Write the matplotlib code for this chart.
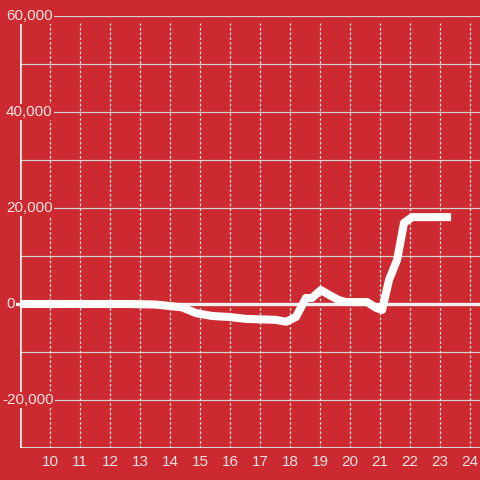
import numpy as np
import matplotlib
matplotlib.use("Agg")
from matplotlib import pyplot as plt

# data
hours = [9.0, 12.6, 13.5, 13.97, 14.4, 14.87, 15.4, 15.97, 16.53, 17.53, 17.87, 18.2,
         18.53, 18.73, 19.03, 19.3, 19.63, 19.87, 20.57, 20.87, 21.07, 21.3, 21.57,
         21.8, 22.07, 23.37]
values = [0, 0, -100, -400, -700, -1900, -2500, -2700, -3100, -3300, -3700, -2700,
          1250, 1250, 2900, 1900, 800, 400, 400, -800, -1250, 5000, 9200,
          16900, 18100, 18100]

x_ticks = list(range(10, 25))
y_ticks = [60000, 40000, 20000, 0, -20000]
y_tick_labels = ["60,000", "40,000", "20,000", "0", "-20,000"]
grid_levels = list(range(-20000, 60001, 10000))

bg = "#cc2a30"
txt = "#f3e3e3"

plt.rcParams['font.family'] = ['Liberation Sans', 'DejaVu Sans']

fig = plt.figure(figsize=(4.8, 4.8), dpi=100, facecolor=bg)
ax = fig.add_axes([20/480, 32/480, 460/480, 432/480])
ax.set_facecolor(bg)
ax.set_xlim(9, 9 + 460/30)
ax.set_ylim(-30000, 60000)

for s in ax.spines.values():
    s.set_visible(False)

# horizontal grid
for g in grid_levels:
    if g == 0:
        ax.axhline(g, xmin=-4/460, color="#f4f0f0", lw=2.4, zorder=2.2, clip_on=False)
    else:
        ax.axhline(g, color="#d8d0d0", lw=0.9, zorder=1)
ax.axhline(-30000, color="#d8d0d0", lw=1.5, zorder=1)

# vertical dotted grid
ax.vlines(x_ticks, -30000, 58500, colors="#e8e0e0", lw=0.9,
          linestyles=(0, (2.2, 1.6)), zorder=1)

# left axis line
ax.vlines([9.0], -30000, 58300, colors="#f4f0f0", lw=2.6, zorder=2)

ax.plot(hours, values, color="white", lw=5.8, solid_joinstyle="round",
        solid_capstyle="butt", zorder=3)

ax.set_xticks(x_ticks)
ax.set_xticklabels([str(t) for t in x_ticks])
ax.tick_params(axis="x", length=0, pad=5, labelsize=11, labelcolor=txt)
ax.set_yticks([])

for v, lab in zip(y_ticks, y_tick_labels):
    off = -18 if lab.startswith("-") else -14
    ax.text(off/460, v, lab, transform=ax.get_yaxis_transform(), ha="left",
            va="center", fontsize=11, color=txt, zorder=2.5,
            bbox=dict(facecolor=bg, edgecolor="none", pad=1.0))

fig.savefig("out.png", dpi=100, facecolor=bg)
